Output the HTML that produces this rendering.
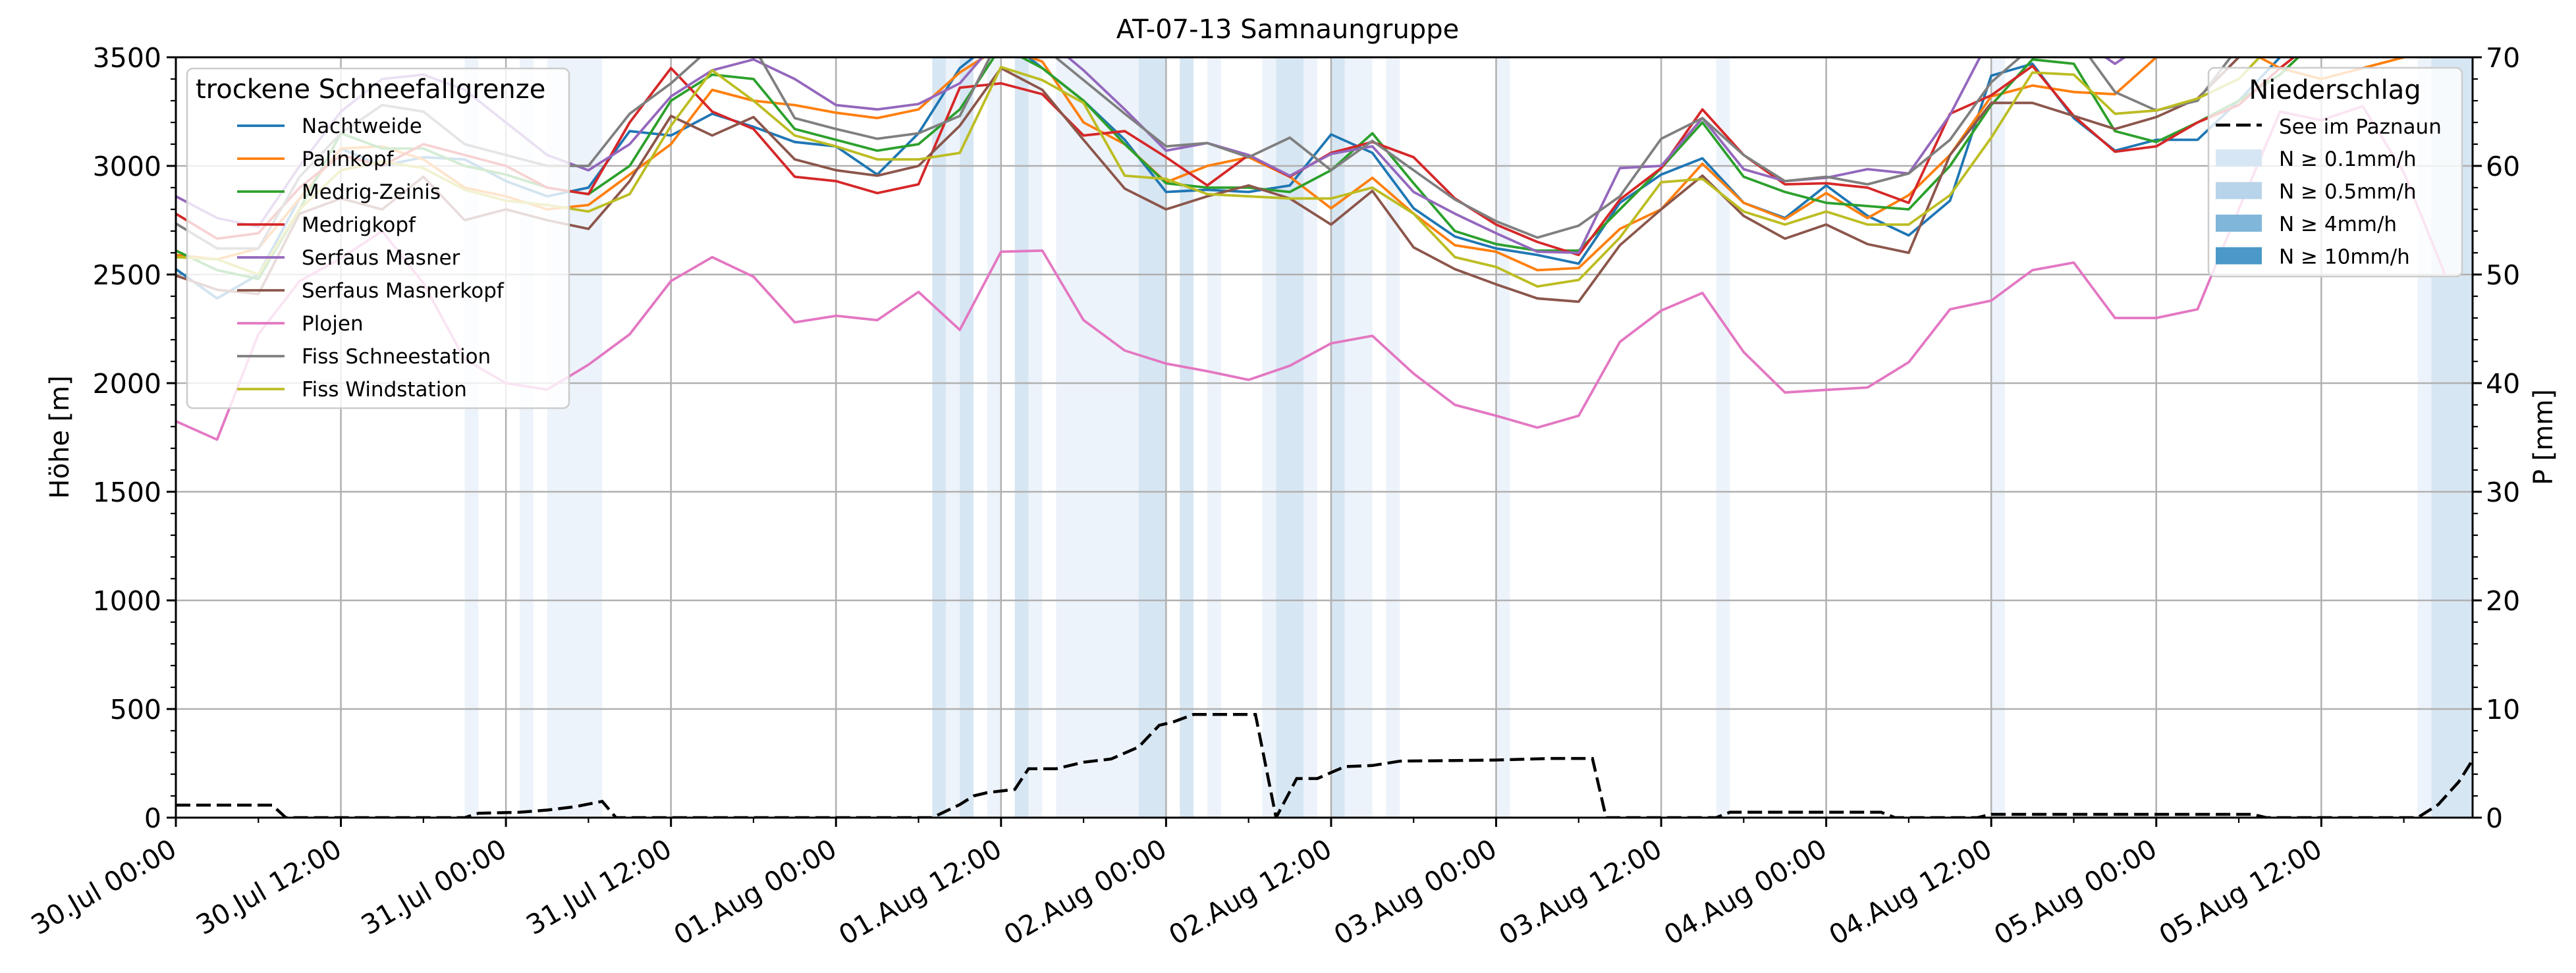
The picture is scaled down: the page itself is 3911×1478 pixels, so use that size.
<!DOCTYPE html>
<html><head><meta charset="utf-8"><title>AT-07-13 Samnaungruppe</title>
<style>
html,body{margin:0;padding:0;background:#fff;}
svg{display:block;font-family:"DejaVu Sans","Liberation Sans",sans-serif;}
</style></head>
<body>
<svg id="chart" xmlns="http://www.w3.org/2000/svg" width="3911" height="1478" viewBox="0 0 3911 1478">
<rect x="0" y="0" width="3911" height="1478" fill="#fff"/>
<defs><clipPath id="plotclip"><rect x="267" y="87" width="3487" height="1155"/></clipPath></defs>
<g id="bands" clip-path="url(#plotclip)"></g>
<g id="grid"></g>
<g id="series" clip-path="url(#plotclip)"></g>
<g id="axes"></g>
<text x="1955" y="58" font-size="40" text-anchor="middle">AT-07-13 Samnaungruppe</text>
<text transform="translate(104,664) rotate(-90)" font-size="40" text-anchor="middle">Höhe [m]</text>
<text transform="translate(3875,664) rotate(-90)" font-size="40" text-anchor="middle">P [mm]</text>
<g id="legend1"></g>
<g id="legend2"></g>
</svg>
<script>
const hours = [0,3,6,9,12,15,18,21,24,27,30,33,36,39,42,45,48,51,54,57,60,63,66,69,72,75,78,81,84,87,90,93,96,99,102,105,108,111,114,117,120,123,126,129,132,135,138,141,144,147,150,153,156,159,162,165];
const seriesNames = ["Nachtweide","Palinkopf","Medrig-Zeinis","Medrigkopf","Serfaus Masner","Serfaus Masnerkopf","Plojen","Fiss Schneestation","Fiss Windstation"];
const nachtweide = [2525,2390,2500,2850,3080,3000,3040,3030,2930,2860,2900,3160,3140,3240,3180,3110,3090,2960,3150,3450,3600,3450,3300,3120,2880,2890,2880,2910,3145,3060,2805,2675,2620,2590,2550,2830,2960,3035,2830,2760,2910,2770,2680,2840,3415,3470,3220,3070,3120,3120,3300,3500,3600,3600,3600,3600];
const palinkopf = [2590,2570,2620,2850,3080,3090,3030,2900,2860,2800,2820,2960,3100,3350,3300,3280,3245,3220,3260,3430,3550,3480,3200,3100,2925,3000,3040,2950,2805,2945,2780,2635,2605,2520,2530,2710,2800,3010,2830,2755,2875,2760,2865,3050,3320,3370,3340,3330,3500,3550,3550,3450,3400,3450,3500,3550];
const medrigZeinis = [2610,2520,2480,2800,3150,3080,3080,3000,2960,2900,2870,3000,3300,3420,3400,3170,3120,3070,3100,3260,3550,3450,3300,3100,2920,2900,2900,2880,2980,3150,2920,2700,2640,2610,2610,2800,2990,3200,2950,2880,2830,2815,2800,3000,3280,3490,3470,3160,3110,3200,3300,3420,3600,3600,3600,3600];
const medrigkopf = [2780,2665,2690,2900,3050,3000,3100,3050,3000,2900,2870,3200,3450,3250,3170,2950,2930,2875,2915,3360,3380,3330,3140,3160,3040,2910,3050,2950,3060,3110,3040,2850,2730,2650,2590,2845,2990,3260,3050,2915,2920,2900,2830,3240,3325,3460,3230,3065,3090,3200,3280,3450,3600,3600,3600,3600];
const serfausMasner = [2860,2760,2720,3000,3250,3400,3420,3350,3200,3050,2980,3100,3320,3440,3490,3400,3280,3260,3285,3380,3600,3600,3440,3260,3070,3105,3050,2955,3055,3090,2880,2780,2690,2605,2600,2990,3000,3220,2985,2930,2945,2985,2965,3235,3600,3600,3600,3470,3600,3600,3600,3600,3600,3600,3600,3600];
const serfausMasnerkopf = [2495,2430,2410,2780,2850,2800,2950,2750,2800,2750,2710,2930,3230,3140,3225,3030,2980,2955,3000,3185,3450,3350,3120,2895,2800,2860,2910,2850,2730,2885,2625,2525,2455,2390,2375,2635,2800,2955,2770,2665,2730,2640,2600,3050,3290,3290,3230,3170,3225,3310,3500,3600,3600,3600,3600,3560];
const plojen = [1825,1740,2225,2470,2575,2700,2460,2110,2000,1970,2085,2225,2470,2580,2490,2280,2310,2290,2420,2245,2605,2610,2290,2150,2090,2055,2015,2080,2183,2218,2044,1900,1850,1795,1850,2190,2334,2415,2143,1957,1969,1980,2096,2340,2380,2520,2555,2300,2300,2340,2800,3250,3210,3275,2970,2500];
const fissSchneestation = [2735,2620,2620,2950,3150,3280,3250,3100,3050,3000,3000,3240,3380,3550,3550,3220,3170,3125,3150,3230,3600,3550,3395,3240,3090,3105,3040,3130,2980,3115,2980,2845,2745,2670,2725,2860,3125,3220,3050,2930,2950,2915,2965,3120,3385,3550,3600,3340,3255,3300,3550,3600,3600,3600,3600,3600];
const fissWindstation = [2580,2570,2500,2800,2980,3020,2990,2890,2840,2820,2790,2870,3185,3440,3300,3140,3090,3030,3030,3060,3455,3395,3290,2955,2940,2870,2860,2850,2850,2900,2780,2580,2535,2445,2475,2670,2925,2940,2790,2730,2790,2730,2730,2865,3130,3430,3420,3240,3255,3310,3400,3600,3600,3600,3600,3600];
const seriesColors = ["#1f77b4","#ff7f0e","#2ca02c","#d62728","#9467bd","#8c564b","#e377c2","#7f7f7f","#bcbd22"];
const seriesValues = [nachtweide,palinkopf,medrigZeinis,medrigkopf,serfausMasner,serfausMasnerkopf,plojen,fissSchneestation,fissWindstation];
const precipHours = [0,7,8,21,22,25,27,29,31,32,55,57,58,59,61,62,64,66,68,70,71.5,72.5,74,78.5,80,81.5,83,85,87,89,96,100,103,104,112,113,124,125,131,132,151,152,163,164.5,166,167];
const precipValues = [1.15,1.15,0,0,0.4,0.5,0.7,1.0,1.5,0,0,1.2,2.0,2.3,2.6,4.5,4.5,5.1,5.4,6.5,8.5,8.8,9.5,9.5,0,3.6,3.6,4.7,4.8,5.2,5.3,5.45,5.45,0,0,0.5,0.5,0,0,0.3,0.3,0,0,1.2,3.3,5.3];
const bandStart = [21,25,27,55,56,57,59,61,62,64,70,73,75,79,80,82,84,85,88,96,112,132,163,164];
const bandEnd   = [22,26,31,56,57,58,60,62,63,70,72,74,76,80,82,83,85,87,89,97,113,133,164,167];
const bandLevel = [1,1,1,2,1,2,1,2,1,1,2,2,1,1,2,1,2,1,1,1,1,1,1,2];
const yTicks = [0,500,1000,1500,2000,2500,3000,3500];
const pTicks = [0,10,20,30,40,50,60,70];
const xTickLabels = ["30.Jul 00:00","30.Jul 12:00","31.Jul 00:00","31.Jul 12:00","01.Aug 00:00","01.Aug 12:00","02.Aug 00:00","02.Aug 12:00","03.Aug 00:00","03.Aug 12:00","04.Aug 00:00","04.Aug 12:00","05.Aug 00:00","05.Aug 12:00"];

const L=267,R=3754,T=87,B=1242,HMAX=167,YMAX=3500,PMAX=70;
const xS = h => L + h*(R-L)/HMAX;
const yS = v => B - v*(B-T)/YMAX;
const pS = p => B - p*(B-T)/PMAX;
const NS="http://www.w3.org/2000/svg";
function mk(tag, attrs, parent){const e=document.createElementNS(NS,tag);for(const k in attrs)e.setAttribute(k,attrs[k]);parent.appendChild(e);return e;}

const gB=document.getElementById('bands');
const bandColors={1:"#edf3fa",2:"#d7e6f3"};
for(let i=0;i<bandStart.length;i++){
  const r=mk('rect',{x:xS(bandStart[i]),y:T,width:xS(bandEnd[i])-xS(bandStart[i]),height:B-T,fill:bandColors[bandLevel[i]]},gB);
  
  
}

const gG=document.getElementById('grid');
for(let i=0;i<xTickLabels.length;i++){
  const x=xS(i*12);
  const l=mk('line',{x1:x,x2:x,y1:T,y2:B,stroke:"#b0b0b0","stroke-width":2.5},gG);
  
  
}
for(const v of yTicks){
  const y=yS(v);
  const l=mk('line',{x1:L,x2:R,y1:y,y2:y,stroke:"#b0b0b0","stroke-width":2.5},gG);
  
  
}

const gS=document.getElementById('series');
for(let s=0;s<seriesValues.length;s++){
  const pts=hours.map((h,i)=>xS(h).toFixed(1)+","+yS(seriesValues[s][i]).toFixed(1)).join(" ");
  const pl=mk('polyline',{points:pts,fill:"none",stroke:seriesColors[s],"stroke-width":3.8,"stroke-linejoin":"round"},gS);
  
  
}
const ppts=precipHours.map((h,i)=>xS(h).toFixed(1)+","+pS(precipValues[i]).toFixed(1)).join(" ");
const pline=mk('polyline',{points:ppts,fill:"none",stroke:"#000","stroke-width":4.5,"stroke-dasharray":"22,9"},gS);



const gA=document.getElementById('axes');
const frame=mk('rect',{x:L,y:T,width:R-L,height:B-T,fill:"none",stroke:"#000","stroke-width":3},gA);


for(let v=0;v<=YMAX;v+=100){
  const y=yS(v); const major=(v%500===0);
  const t=mk('line',{x1:L-(major?14:8),x2:L,y1:y,y2:y,stroke:"#000","stroke-width":major?3:2.2},gA);
  
  
}
for(const v of yTicks){
  const t=mk('text',{x:L-22,y:yS(v)+15,"font-size":41,"text-anchor":"end"},gA);
  t.textContent=v;
  
  
}
for(let p=0;p<=PMAX;p+=2){
  const y=pS(p); const major=(p%10===0);
  const t=mk('line',{x1:R,x2:R+(major?14:8),y1:y,y2:y,stroke:"#000","stroke-width":major?3:2.2},gA);
  
  
}
for(const p of pTicks){
  const t=mk('text',{x:R+20,y:pS(p)+15,"font-size":41,"text-anchor":"start"},gA);
  t.textContent=p;
  
  
}
for(let h=0;h<=HMAX;h+=6){
  const x=xS(h); const major=(h%12===0);
  const t=mk('line',{x1:x,x2:x,y1:B,y2:B+(major?14:8),stroke:"#000","stroke-width":major?3:2.2},gA);
  
  
}
for(let i=0;i<xTickLabels.length;i++){
  const x=xS(i*12)+4;
  const t=mk('text',{transform:`translate(${x},1298) rotate(-30)`,"font-size":41,"text-anchor":"end"},gA);
  t.textContent=xTickLabels[i];
  
  
}

// legend 1
const g1=document.getElementById('legend1');
const box1=mk('rect',{x:284,y:104,width:580,height:516,rx:9,fill:"#fff","fill-opacity":0.8,stroke:"#cccccc","stroke-width":2.5},g1);


const lt1=mk('text',{x:297,y:149,"font-size":40},g1);
lt1.textContent="trockene Schneefallgrenze";


for(let s=0;s<seriesNames.length;s++){
  const y=191+s*50;
  const ln=mk('line',{x1:360,x2:432,y1:y,y2:y,stroke:seriesColors[s],"stroke-width":3.8},g1);
  
  
  const tx=mk('text',{x:458,y:y+11,"font-size":31},g1);
  tx.textContent=seriesNames[s];
  
  
}

// legend 2
const g2=document.getElementById('legend2');
const box2=mk('rect',{x:3353,y:103,width:385,height:317,rx:9,fill:"#fff","fill-opacity":0.8,stroke:"#cccccc","stroke-width":2.5},g2);


const lt2=mk('text',{x:3545,y:150,"font-size":40,"text-anchor":"middle"},g2);
lt2.textContent="Niederschlag";


const dl=mk('line',{x1:3364,x2:3434,y1:190,y2:190,stroke:"#000","stroke-width":4.5,"stroke-dasharray":"22,9"},g2);


const dt=mk('text',{x:3460,y:203,"font-size":31},g2);
dt.textContent="See im Paznaun";


const patchLabels=["N ≥ 0.1mm/h","N ≥ 0.5mm/h","N ≥ 4mm/h","N ≥ 10mm/h"];
const patchColors=["#d7e6f4","#b8d4ea","#80b6d9","#4b98c9"];
for(let i=0;i<4;i++){
  const y=227+i*49.5;
  const pr=mk('rect',{x:3364,y:y,width:70,height:26,fill:patchColors[i]},g2);
  
  
  const tx=mk('text',{x:3460,y:y+25,"font-size":31},g2);
  tx.textContent=patchLabels[i];
  
  
}
</script>
</body></html>
